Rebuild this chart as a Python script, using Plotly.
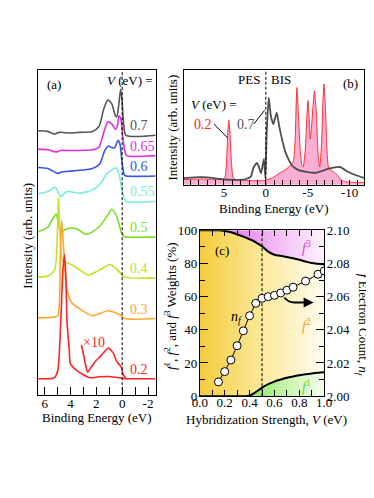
import plotly.graph_objects as go

FONT = "Liberation Serif, Times New Roman, Times, serif"
W, H = 374, 498


def px(x):
    return x / W


def py(y):
    return 1 - y / H


# ---------------- (a) offset f-spectra vs binding energy ----------------
a_labels = ["0.7", "0.65", "0.6", "0.55", "0.5", "0.4", "0.3", "0.2"]
a_colors = ["#555555", "#e030e0", "#3355ee", "#77eedd", "#77dd22", "#c8e022", "#ffa52a", "#ff2222"]
a_offsets = [268, 247, 226, 200, 163, 121, 79, 17]

e_07 = [6.52, 5.75, 5.26, 4.89, 4.02, 3.28, 2.3, 1.8, 1.43, 1.11, 0.81, 0.52, 0.42, 0.27, 0.12, 0.02, -0.12, -0.3, -2.6]
i_07 = [4.7, 4.0, 1.3, 3.0, 2.3, 3.0, 4.0, 9.0, 27, 36.3, 32.3, 20, 19, 30.7, 47.3, 37.3, 10.7, 0, 0]
e_065 = [6.52, 5.75, 5.13, 4.77, 3.78, 2.3, 1.8, 1.43, 1.11, 0.81, 0.52, 0.37, 0.25, 0.12, -0.05, -0.22, -0.35, -2.6]
i_065 = [6.7, 6.0, 3.7, 5.3, 5.3, 6.0, 8.7, 23.7, 34.7, 32.7, 27, 30.3, 41, 38.7, 18.7, 3.7, 0, 0]
e_06 = [6.52, 5.75, 5.01, 4.64, 3.78, 2.3, 1.73, 1.36, 1.06, 0.81, 0.57, 0.32, 0.17, 0.0, -0.17, -0.3, -2.6]
i_06 = [8.7, 7.7, 2.7, 4.3, 5.3, 7.7, 12.7, 26, 31, 29.3, 29.3, 36.7, 32.7, 12.7, 1, 0, 0]
e_055 = [6.52, 5.75, 5.19, 4.77, 4.27, 3.28, 2.3, 1.68, 1.19, 0.69, 0.44, 0.2, -0.05, -0.3, -2.6]
i_055 = [7.7, 10, 14.3, 5, 10, 8.3, 11.7, 18.3, 28.3, 33.3, 34.3, 25, 8.3, 0, 0]
e_05 = [6.52, 5.75, 5.13, 4.77, 4.27, 3.53, 2.79, 1.8, 1.06, 0.81, 0.44, 0.07, -0.17, -0.3, -2.6]
i_05 = [5.4, 10.4, 23.7, 5.4, 8.7, 8.7, 2.7, 10.4, 23.7, 28.7, 22, 5.4, 0.4, 0, 0]
e_04 = [6.52, 5.75, 5.26, 5.1, 5.0, 4.94, 4.85, 4.72, 4.64, 4.02, 3.04, 2.67, 1.8, 0.94, 0.44, -0.17, -2.6]
i_04 = [1, 2, 7.7, 20, 55, 82.7, 55, 25, 17.7, 14.3, 6, 2.7, 7.7, 13.7, 9.3, 1, 0]
e_03 = [6.52, 5.4, 5.0, 4.8, 4.69, 4.55, 4.27, 3.9, 3.04, 2.3, 1.06, 0.07, -0.2, -2.6]
i_03 = [0.7, 1.3, 3, 63, 101.3, 75, 29.7, 16.3, 8, 3, 8, 3, 0, 0]
e_02 = [6.52, 5.26, 5.0, 4.76, 4.6, 4.47, 4.35, 4.27, 4.1, 4.0, 3.5, 3.0, 2.5, 1.8, 1.06, 0.5, 0.0, -0.3, -2.6]
i_02 = [0, 1, 8, 58, 110, 128.3, 100, 58, 30, 15, 8.3, 4, 1, 2, 2.3, 1.5, 0.5, 0, 0]
# V = 0.2 spectrum magnified x10
e_02x10 = [3.16, 3.0, 2.8, 2.67, 2.4, 2.05, 1.68, 1.3, 1.06, 0.85, 0.69, 0.44, 0.2, 0.07, -0.05, -0.3]
i_02x10 = [35, 25, 12, 6.7, 12, 18.3, 23.3, 29, 31.7, 29, 26.7, 18.3, 14, 12.3, 5, 0]

a_energies = [e_07, e_065, e_06, e_055, e_05, e_04, e_03, e_02]
a_intens = [i_07, i_065, i_06, i_055, i_05, i_04, i_03, i_02]
a_ticks = [6, 4, 2, 0, -2]
a_ticktext = ["6", "4", "2", "0", "-2"]

# ---------------- (b) PES/BIS spectra ----------------
e_b07 = [9.8, 8.5, 7.0, 5.45, 3.9, 2.4, 1.8, 1.45, 1.06, 0.8, 0.57, 0.23, 0.05, -0.1, -0.34, -0.6, -0.9, -1.1, -1.3, -1.55, -1.8,
         -2.36, -3.1, -3.9, -4.8, -6.0, -7.5, -8.85, -9.8, -10.7, -11.8]
y_b07 = [0.057, 0.065, 0.065, 0.05, 0.042, 0.05, 0.07, 0.155, 0.19, 0.15, 0.1, 0.225, 0.06, 0.45, 0.76, 0.6, 0.53, 0.58, 0.63, 0.53, 0.44,
         0.28, 0.17, 0.127, 0.113, 0.105, 0.14, 0.155, 0.113, 0.085, 0.057]
e_b02 = [9.8, 7.5, 5.8, 5.2, 4.9, 4.69, 4.55, 4.42, 4.28, 4.11, 3.9, 3.6, 3.0, 1.5, 0.5, 0.0, -0.8, -1.6, -2.3, -2.74, -3.1, -3.3,
         -3.5, -3.7, -3.9, -4.1, -4.3, -4.46, -4.7, -4.9, -5.03, -5.15, -5.3, -5.5, -5.8, -6.05, -6.25, -6.43, -6.65, -6.8,
         -6.94, -7.1, -7.3, -7.5, -8.1, -8.6, -9.0, -9.5, -11.8]
y_b02 = [0.045, 0.05, 0.045, 0.045, 0.06, 0.2, 0.45, 0.565, 0.45, 0.2, 0.06, 0.045, 0.04, 0.035, 0.035, 0.04, 0.06, 0.1, 0.13, 0.155,
         0.18, 0.21, 0.4, 0.85, 0.6, 0.3, 0.17, 0.155, 0.3, 0.6, 0.735, 0.6, 0.4, 0.55, 0.82, 0.6, 0.25, 0.155, 0.35, 0.7,
         0.88, 0.7, 0.3, 0.15, 0.11, 0.08, 0.04, 0.025, 0.02]
b_ticks = [10, 5, 0, -5, -10]
b_ticktext = ["10", "5", "0", "-5", "-10"]

# ---------------- (c) weights and f-electron count ----------------
v_grid = [0, 0.1, 0.15, 0.2, 0.25, 0.3, 0.35, 0.4, 0.45, 0.5, 0.55, 0.6, 0.65, 0.7, 0.75, 0.8, 0.85, 0.9, 0.95, 1.0]
w_f1 = [0, 0, 0, 0, 0, 0, 0, 0.3, 2.5, 5.1, 7.2, 8.8, 10, 11.1, 11.9, 12.6, 13.2, 13.7, 14.1, 14.4]
w_f3 = [0, 0, 0, 0.4, 1.2, 2.4, 3.8, 5.4, 7.2, 9.6, 12.8, 14.7, 15.4, 16.1, 16.9, 17.8, 18.8, 19.7, 20.2, 20.6]
w_f2 = [100 - a - b for a, b in zip(w_f1, w_f3)]
v_nf = [0.15, 0.2, 0.25, 0.3, 0.35, 0.4, 0.45, 0.5, 0.55, 0.6, 0.65, 0.7, 0.75, 0.85, 0.95, 1.0]
n_f = [2.0086, 2.0148, 2.0218, 2.0304, 2.0394, 2.0485, 2.056, 2.059, 2.060, 2.0608, 2.0622, 2.0639, 2.0657, 2.0694, 2.0735, 2.0755]
V_CROSS = 0.5

fig = go.Figure()

# (a)
for lab, col, off, ee, ii in zip(a_labels, a_colors, a_offsets, a_energies, a_intens):
    fig.add_trace(go.Scatter(x=ee, y=[off + v for v in ii], mode="lines",
                             line=dict(color=col, width=1.6, shape="spline", smoothing=0.7),
                             xaxis="x", yaxis="y", showlegend=False, hoverinfo="skip"))
    fig.add_annotation(x=px(117), y=(off + ii[-1]), xref="paper", yref="y", text=lab, showarrow=False,
                       xanchor="left", yanchor="bottom", font=dict(family=FONT, size=14, color=col))
fig.add_trace(go.Scatter(x=e_02x10, y=[a_offsets[-1] + v for v in i_02x10], mode="lines",
                         line=dict(color="#ff2222", width=1.6, shape="spline", smoothing=0.7),
                         xaxis="x", yaxis="y", showlegend=False, hoverinfo="skip"))

# (b)
fig.add_trace(go.Scatter(x=e_b02, y=y_b02, mode="lines", fill="tozeroy", fillcolor="rgba(250,160,205,0.85)",
                         line=dict(color="#ff3030", width=1, shape="spline", smoothing=0.5),
                         xaxis="x2", yaxis="y2", showlegend=False, hoverinfo="skip"))
fig.add_trace(go.Scatter(x=e_b07, y=y_b07, mode="lines",
                         line=dict(color="#4a4f4f", width=1.8, shape="spline", smoothing=0.5),
                         xaxis="x2", yaxis="y2", showlegend=False, hoverinfo="skip"))

# (c) stacked weights with gradient fills
lower = w_f1
upper = [a + b for a, b in zip(w_f1, w_f2)]
top = [a + b + c for a, b, c in zip(w_f1, w_f2, w_f3)]
fig.add_trace(go.Scatter(x=v_grid, y=lower, mode="lines", fill="tozeroy",
                         fillgradient=dict(type="horizontal", start=0.38, stop=1.0,
                                           colorscale=[[0, "rgb(140,228,90)"], [0.5, "rgb(205,245,180)"], [1, "rgb(250,255,245)"]]),
                         line=dict(color="black", width=2, shape="spline"),
                         xaxis="x3", yaxis="y3", showlegend=False, hoverinfo="skip"))
fig.add_trace(go.Scatter(x=v_grid, y=upper, mode="lines", fill="tonexty",
                         fillgradient=dict(type="horizontal", start=0.0, stop=1.0,
                                           colorscale=[[0, "rgb(244,204,60)"], [0.5, "rgb(251,234,160)"], [1, "rgb(255,254,248)"]]),
                         line=dict(color="black", width=2, shape="spline"),
                         xaxis="x3", yaxis="y3", showlegend=False, hoverinfo="skip"))
fig.add_trace(go.Scatter(x=v_grid, y=top, mode="lines", fill="tonexty",
                         fillgradient=dict(type="horizontal", start=0.1, stop=1.0,
                                           colorscale=[[0, "rgb(225,100,230)"], [0.5, "rgb(240,180,242)"], [1, "rgb(255,250,255)"]]),
                         line=dict(width=0),
                         xaxis="x3", yaxis="y3", showlegend=False, hoverinfo="skip"))
fig.add_trace(go.Scatter(x=[V_CROSS, V_CROSS], y=[0, 100], mode="lines",
                         line=dict(color="black", width=1, dash="3px,2px"),
                         xaxis="x3", yaxis="y3", showlegend=False, hoverinfo="skip"))
fig.add_trace(go.Scatter(x=v_nf, y=n_f, mode="lines+markers",
                         line=dict(color="black", width=1),
                         marker=dict(symbol="circle", size=8, color="white", line=dict(color="black", width=1)),
                         xaxis="x3", yaxis="y4", showlegend=False, hoverinfo="skip"))

tickfont = dict(family=FONT, size=13, color="black")
common = dict(showgrid=False, zeroline=False, showline=True, linecolor="black", linewidth=1, tickfont=tickfont,
              ticks="inside", tickcolor="black")

fig.update_layout(
    width=W, height=H, margin=dict(l=0, r=0, t=0, b=0),
    paper_bgcolor="white", plot_bgcolor="white",
    font=dict(family=FONT, size=13, color="black"),
    xaxis=dict(common, domain=[px(23), px(146)], range=[6.52, -2.6], anchor="y", mirror=True,
               tickmode="array", tickvals=a_ticks, ticktext=a_ticktext, ticklen=8, ticklabelstandoff=-4,
               minor=dict(tickmode="linear", tick0=0, dtick=1, ticks="inside", ticklen=8, tickcolor="black")),
    yaxis=dict(common, domain=[py(392), py(57)], range=[0, 335], anchor="x", mirror=True,
               ticks="", showticklabels=False),
    xaxis2=dict(common, domain=[px(175), px(364)], range=[9.83, -11.77], anchor="y2", mirror=True,
                tickmode="array", tickvals=b_ticks, ticktext=b_ticktext, ticklen=5, ticklabelstandoff=-4,
                minor=dict(tickmode="linear", tick0=0, dtick=1, ticks="inside", ticklen=5, tickcolor="black")),
    yaxis2=dict(common, domain=[py(175), py(57)], range=[0, 1], anchor="x2", mirror=True,
                ticks="", showticklabels=False),
    xaxis3=dict(common, domain=[px(192), px(322)], range=[0, 1], anchor="y3", mirror="ticks",
                dtick=0.2, tick0=0, tickformat=".1f", ticklen=6, ticklabelstandoff=-6,
                minor=dict(dtick=0.1, ticks="inside", ticklen=6, tickcolor="black")),
    yaxis3=dict(common, domain=[py(393), py(222)], range=[0, 100], anchor="x3",
                dtick=20, tick0=0, ticklen=8, ticklabelstandoff=-1,
                minor=dict(dtick=10, ticks="inside", ticklen=5, tickcolor="black")),
    yaxis4=dict(common, domain=[py(393), py(222)], range=[2.0, 2.1], anchor="x3", overlaying="y3", side="right",
                dtick=0.02, tick0=2.0, tickformat=".2f", ticklen=8, ticklabelstandoff=-1,
                minor=dict(dtick=0.01, ticks="inside", ticklen=5, tickcolor="black")),
)

# dashed Fermi-level lines
fig.add_shape(type="line", xref="x", yref="y domain", x0=0, x1=0, y0=0, y1=1,
              line=dict(color="black", width=1, dash="3px,2px"))
fig.add_shape(type="line", xref="x2", yref="y2 domain", x0=0, x1=0, y0=0, y1=1,
              line=dict(color="black", width=1, dash="3px,2px"))


def note(x, y, text, size=13, color="black", angle=0, xanchor="center", yanchor="middle"):
    fig.add_annotation(x=px(x), y=py(y), xref="paper", yref="paper", text=text, showarrow=False,
                       textangle=angle, xanchor=xanchor, yanchor=yanchor,
                       font=dict(family=FONT, size=size, color=color))


# panel (a) text
note(40, 72, "(a)")
note(145, 68, "<i>V</i> (eV) =", xanchor="right")
note(82, 338, "×10", size=14, color="#ff2222")
note(12, 227, "Intensity (arb. units)", angle=-90)
note(85, 415, "Binding Energy (eV)")

# panel (b) text
note(243, 66, "PES")
note(277, 66, "BIS")
note(349, 71, "(b)")
note(207, 92, "<i>V</i> (eV) =")
note(195, 113, "0.2", size=14, color="#ff2222")
note(240, 113, "0.7", size=14, color="#555555")
note(163, 116, "Intensity (arb. units)", angle=-90)
note(270, 200, "Binding Energy (eV)")
fig.add_shape(type="line", xref="x2", yref="y2", x0=6.2, y0=0.53, x1=4.57, y1=0.41, line=dict(color="black", width=1))
fig.add_shape(type="line", xref="x2", yref="y2", x0=1.45, y0=0.53, x1=0.15, y1=0.65, line=dict(color="black", width=1))

# panel (c) text
note(215, 243, "(c)")
note(230, 312, "<i>n<sub>f</sub></i>", size=14)
note(304, 239, "<i>f</i><sup>3</sup>", size=14, color="#e040e0")
note(304, 320, "<i>f</i><sup>2</sup>", size=14, color="#f5a030")
note(304, 383, "<i>f</i><sup>1</sup>", size=14, color="#66dd22")
note(161, 300, "<i>f</i><sup>1</sup>, <i>f</i><sup>2</sup>, and <i>f</i><sup>3</sup> Weights (%)", angle=-90)
note(362, 320, "<i>f</i> Electron Count, <i>n<sub>f</sub></i>", angle=90)
note(262, 417, "Hybridization Strength, <i>V</i> (eV)")
fig.add_shape(type="path", xref="x3", yref="y3", path="M 0.68,59.5 Q 0.71,56.5 0.76,56.5 L 0.88,56.5",
              line=dict(color="black", width=2))
fig.add_annotation(x=0.915, y=56.5, ax=0.86, ay=56.5, xref="x3", yref="y3", axref="x3", ayref="y3",
                   showarrow=True, arrowhead=2, arrowsize=1, arrowwidth=2, arrowcolor="black", text="")

fig.write_html("out.html")
